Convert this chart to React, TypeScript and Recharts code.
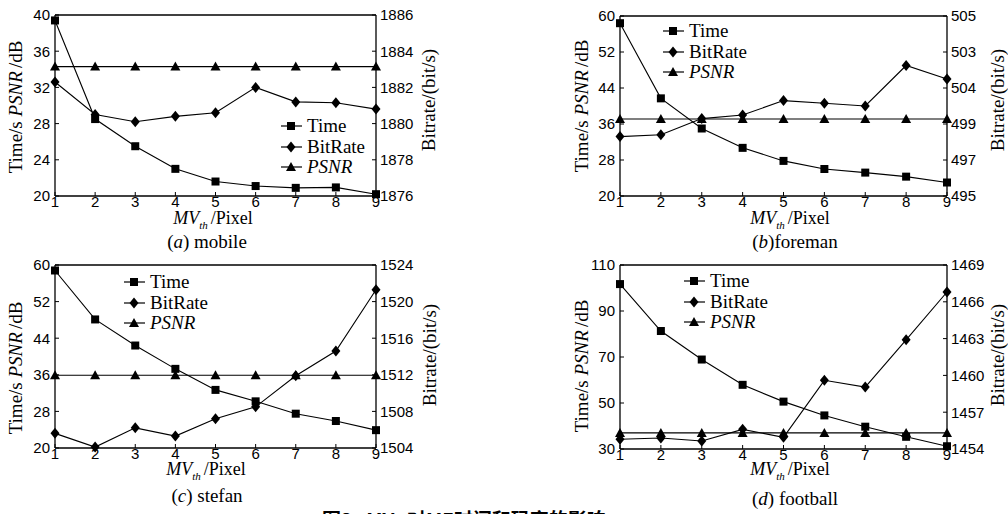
import React from 'react';
import { LineChart, Line, XAxis, YAxis, ReferenceLine, Legend } from 'recharts';

// MV_th threshold (pixel)
const mvth = [1, 2, 3, 4, 5, 6, 7, 8, 9];

// (a) mobile
const mobileTime = [39.4, 28.5, 25.5, 23.0, 21.6, 21.1, 20.9, 20.95, 20.2];
const mobileBitrate = [1882.3, 1880.5, 1880.1, 1880.4, 1880.6, 1882.0, 1881.2, 1881.15, 1880.8];
const mobilePsnr = [34.3, 34.3, 34.3, 34.3, 34.3, 34.3, 34.3, 34.3, 34.3];

// (b) foreman
const foremanTime = [58.4, 41.7, 35.0, 30.7, 27.8, 26.0, 25.2, 24.3, 23.0];
const foremanBitrate = [498.3, 498.4, 499.3, 499.5, 500.3, 500.15, 500.0, 502.25, 501.5];
const foremanPsnr = [37.1, 37.1, 37.1, 37.1, 37.1, 37.1, 37.1, 37.1, 37.1];

// (c) stefan
const stefanTime = [58.8, 48.1, 42.4, 37.3, 32.7, 30.2, 27.5, 25.9, 23.9];
const stefanBitrate = [1505.6, 1504.1, 1506.2, 1505.3, 1507.2, 1508.5, 1511.9, 1514.6, 1521.3];
const stefanPsnr = [35.9, 35.9, 35.9, 35.9, 35.9, 35.9, 35.9, 35.9, 35.9];

// (d) football
const footballTime = [101.7, 81.3, 68.9, 57.9, 50.6, 44.6, 39.7, 35.3, 31.2];
const footballBitrate = [1454.8, 1454.9, 1454.65, 1455.6, 1454.95, 1459.6, 1459.05, 1462.9, 1466.8];
const footballPsnr = [37.0, 37.0, 37.0, 37.0, 37.0, 37.0, 37.0, 37.0, 37.0];

// axis ticks
const mobileLeftTicks = [20, 24, 28, 32, 36, 40];
const mobileRightTicks = [1876, 1878, 1880, 1882, 1884, 1886];
const foremanLeftTicks = [20, 28, 36, 44, 52, 60];
const foremanRightTicks = [495, 497, 499, 501, 503, 505];
const foremanRightLabels = ['495', '497', '499', '504', '503', '505'];
const stefanLeftTicks = [20, 28, 36, 44, 52, 60];
const stefanRightTicks = [1504, 1508, 1512, 1516, 1520, 1524];
const footballLeftTicks = [30, 50, 70, 90, 110];
const footballRightTicks = [1454, 1457, 1460, 1463, 1466, 1469];

const seriesOrder = ['time', 'bitrate', 'psnr'];

const build = (time: number[], bitrate: number[], psnr: number[]) =>
  mvth.map((x, i) => ({ x, time: time[i], bitrate: bitrate[i], psnr: psnr[i] }));

const SERIF = '"Liberation Serif", "Times New Roman", serif';
const SANS = '"Liberation Sans", Arial, sans-serif';

const squareAt = (cx: number, cy: number, key?: any) => (
  <rect key={key} x={cx - 4} y={cy - 4} width={8} height={8} fill="#000" />
);
const diamondAt = (cx: number, cy: number, key?: any) => (
  <path key={key} d={`M${cx},${cy - 5.5}L${cx + 4.5},${cy}L${cx},${cy + 5.5}L${cx - 4.5},${cy}Z`} fill="#000" />
);
const triangleAt = (cx: number, cy: number, key?: any) => (
  <path key={key} d={`M${cx},${cy - 5}L${cx + 5},${cy + 4}L${cx - 5},${cy + 4}Z`} fill="#000" />
);

const SquareDot = (p: any) => (p.cx == null ? <g key={p.index} /> : squareAt(p.cx, p.cy, p.index));
const DiamondDot = (p: any) => (p.cx == null ? <g key={p.index} /> : diamondAt(p.cx, p.cy, p.index));
const TriangleDot = (p: any) => (p.cx == null ? <g key={p.index} /> : triangleAt(p.cx, p.cy, p.index));

const markerFor: Record<string, (cx: number, cy: number) => React.ReactNode> = {
  time: squareAt,
  bitrate: diamondAt,
  psnr: triangleAt,
};

const LegendBox = (props: any) => {
  const items = [...(props.payload || [])].sort(
    (a: any, b: any) => seriesOrder.indexOf(a.dataKey) - seriesOrder.indexOf(b.dataKey)
  );
  return (
    <div style={{ fontFamily: SERIF, fontSize: 19, lineHeight: '20.5px', color: '#000' }}>
      {items.map((entry: any) => (
        <div key={entry.dataKey} style={{ display: 'flex', alignItems: 'center', height: 20.5 }}>
          <svg width={24} height={20} style={{ display: 'block' }}>
            <line x1={0} x2={21} y1={10} y2={10} stroke="#000" strokeWidth={1.2} />
            {markerFor[entry.dataKey](10, 10)}
          </svg>
          <span style={{ marginLeft: 2, fontStyle: entry.dataKey === 'psnr' ? 'italic' : 'normal' }}>
            {entry.value}
          </span>
        </div>
      ))}
    </div>
  );
};

type PanelProps = {
  left: number;
  top: number;
  margin: { top: number; right: number; bottom: number; left: number };
  rightWidth: number;
  data: any[];
  leftTicks: number[];
  rightTicks: number[];
  rightLabels?: string[];
  legendLeft: number;
  legendTop: number;
};

const tickStyle = { fill: '#000', fontSize: 15, fontFamily: SANS };

const Panel = ({ left, top, margin, rightWidth, data, leftTicks, rightTicks, rightLabels, legendLeft, legendTop }: PanelProps) => {
  const lDom: [number, number] = [leftTicks[0], leftTicks[leftTicks.length - 1]];
  const rDom: [number, number] = [rightTicks[0], rightTicks[rightTicks.length - 1]];
  return (
    <div style={{ position: 'absolute', left, top }}>
      <LineChart width={504} height={257} data={data} margin={margin}>
        <XAxis
          dataKey="x"
          type="number"
          domain={[1, 9]}
          ticks={mvth}
          height={30}
          tickSize={-4}
          tickMargin={4}
          tick={tickStyle}
          axisLine={{ stroke: '#000', strokeWidth: 1.3 }}
          tickLine={{ stroke: '#000' }}
        />
        <YAxis
          yAxisId="left"
          orientation="left"
          width={55}
          domain={lDom}
          ticks={leftTicks}
          interval={0}
          tickSize={-4}
          tickMargin={9}
          tick={tickStyle}
          axisLine={{ stroke: '#000', strokeWidth: 1.3 }}
          tickLine={{ stroke: '#000' }}
        />
        <YAxis
          yAxisId="right"
          orientation="right"
          width={rightWidth}
          domain={rDom}
          ticks={rightTicks}
          interval={0}
          tickSize={-4}
          tickMargin={8}
          tick={tickStyle}
          tickFormatter={(v: number) => (rightLabels ? rightLabels[rightTicks.indexOf(v)] ?? String(v) : String(v))}
          axisLine={{ stroke: '#000', strokeWidth: 1.3 }}
          tickLine={{ stroke: '#000' }}
        />
        <ReferenceLine yAxisId="left" y={lDom[1]} stroke="#000" strokeWidth={1.3} />
        <Legend
          content={LegendBox}
          layout="vertical"
          align="center"
          verticalAlign="middle"
          wrapperStyle={{ left: legendLeft, top: legendTop, width: 'auto' }}
        />
        <Line yAxisId="left" dataKey="time" name="Time" type="linear" stroke="#000" strokeWidth={1.1} dot={SquareDot} activeDot={false} isAnimationActive={false} />
        <Line yAxisId="right" dataKey="bitrate" name="BitRate" type="linear" stroke="#000" strokeWidth={1.1} dot={DiamondDot} activeDot={false} isAnimationActive={false} />
        <Line yAxisId="left" dataKey="psnr" name="PSNR" type="linear" stroke="#000" strokeWidth={1.1} dot={TriangleDot} activeDot={false} isAnimationActive={false} />
      </LineChart>
    </div>
  );
};

const LeftLabel = ({ x, y }: { x: number; y: number }) => (
  <text x={x} y={y} transform={`rotate(-90 ${x} ${y})`} textAnchor="middle" dominantBaseline="central" fontFamily={SERIF} fontSize={19} fill="#000">
    Time/s <tspan fontStyle="italic">PSNR</tspan><tspan dx={3}>/dB</tspan>
  </text>
);
const RightLabel = ({ x, y }: { x: number; y: number }) => (
  <text x={x} y={y} transform={`rotate(-90 ${x} ${y})`} textAnchor="middle" dominantBaseline="central" fontFamily={SERIF} fontSize={19} fill="#000">
    Bitrate/(bit/s)
  </text>
);
const XLabel = ({ x, y }: { x: number; y: number }) => (
  <text x={x} y={y} textAnchor="middle" fontFamily={SERIF} fontSize={18} fill="#000">
    <tspan fontStyle="italic">MV</tspan>
    <tspan fontStyle="italic" fontSize={11} dy={5}>th</tspan>
    <tspan dy={-5} dx={3}>/Pixel</tspan>
  </text>
);
const Caption = ({ x, y, letter, name, gap }: { x: number; y: number; letter: string; name: string; gap: boolean }) => (
  <text x={x} y={y} textAnchor="middle" fontFamily={SERIF} fontSize={19} fill="#000">
    (<tspan fontStyle="italic">{letter}</tspan>){gap ? ' ' : ''}{name}
  </text>
);

export default function App() {
  return (
    <div style={{ position: 'absolute', left: 0, top: 0, width: 1008, height: 514, background: '#fff', overflow: 'hidden' }}>
      <Panel
        left={0}
        top={0}
        margin={{ top: 15, right: 68, bottom: 31, left: 0 }}
        rightWidth={60}
        data={build(mobileTime, mobileBitrate, mobilePsnr)}
        leftTicks={mobileLeftTicks}
        rightTicks={mobileRightTicks}
        legendLeft={281}
        legendTop={116}
      />
      <Panel
        left={504}
        top={0}
        margin={{ top: 16, right: 6, bottom: 31, left: 61 }}
        rightWidth={55}
        data={build(foremanTime, foremanBitrate, foremanPsnr)}
        leftTicks={foremanLeftTicks}
        rightTicks={foremanRightTicks}
        rightLabels={foremanRightLabels}
        legendLeft={159}
        legendTop={21}
      />
      <Panel
        left={0}
        top={250}
        margin={{ top: 15, right: 68, bottom: 29, left: 0 }}
        rightWidth={60}
        data={build(stefanTime, stefanBitrate, stefanPsnr)}
        leftTicks={stefanLeftTicks}
        rightTicks={stefanRightTicks}
        legendLeft={124}
        legendTop={22}
      />
      <Panel
        left={504}
        top={250}
        margin={{ top: 15, right: 6, bottom: 28, left: 61 }}
        rightWidth={55}
        data={build(footballTime, footballBitrate, footballPsnr)}
        leftTicks={footballLeftTicks}
        rightTicks={footballRightTicks}
        legendLeft={180}
        legendTop={21}
      />
      <svg width={1008} height={514} style={{ position: 'absolute', left: 0, top: 0, pointerEvents: 'none' }}>
        <LeftLabel x={15} y={107} />
        <RightLabel x={428} y={100} />
        <XLabel x={213} y={224} />
        <Caption x={207} y={248} letter="a" name="mobile" gap={true} />

        <LeftLabel x={581} y={106} />
        <RightLabel x={997} y={100} />
        <XLabel x={790} y={224} />
        <Caption x={795} y={248} letter="b" name="foreman" gap={false} />

        <LeftLabel x={15} y={368} />
        <RightLabel x={429} y={355} />
        <XLabel x={206} y={475} />
        <Caption x={207} y={502} letter="c" name="stefan" gap={true} />

        <LeftLabel x={581} y={366} />
        <RightLabel x={997} y={355} />
        <XLabel x={790} y={475} />
        <Caption x={795} y={505} letter="d" name="football" gap={true} />

        <text x={322} y={527} fontFamily='"Noto Sans CJK SC", sans-serif' fontWeight={700} fontSize={19} fill="#000">
          图3<tspan dx={14}>MV</tspan><tspan fontSize={12} dy={4}>th</tspan><tspan dy={-4}>对ME时间和码率的影响</tspan>
        </text>
      </svg>
    </div>
  );
}
